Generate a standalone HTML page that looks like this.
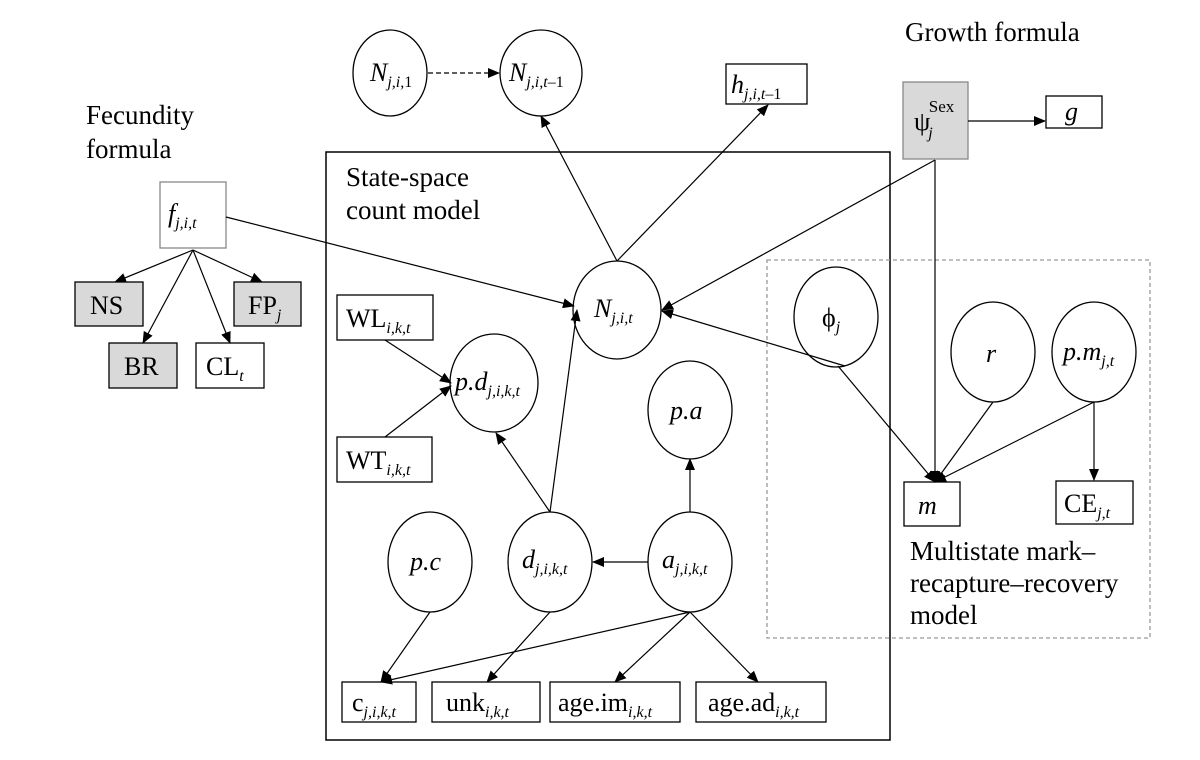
<!DOCTYPE html>
<html><head><meta charset="utf-8"><style>
body{margin:0;background:#fff}
svg{display:block;font-family:"Liberation Serif","Times New Roman",serif}
text{font-family:"Liberation Serif","Times New Roman",serif;font-size:26px;fill:#000}
.t{font-size:27px}
.i{font-style:italic}
.s{font-size:16px;font-style:italic}
</style></head><body>
<svg width="1200" height="760" viewBox="0 0 1200 760" xmlns="http://www.w3.org/2000/svg" font-family="Liberation Serif, serif">
<defs><marker id="a" markerWidth="12" markerHeight="10" refX="11" refY="5" orient="auto" markerUnits="userSpaceOnUse"><path d="M0,0 L12,5 L0,10 z" fill="#000"/></marker></defs>
<g fill="none" stroke="#000" stroke-width="1.3">
<rect x="326" y="152" width="564" height="588" stroke-width="1.5"/>
<rect x="767" y="260" width="383" height="378" stroke="#999" stroke-dasharray="4,3"/>
<ellipse cx="390" cy="73" rx="37" ry="43"/>
<ellipse cx="541" cy="73" rx="41" ry="43"/>
<ellipse cx="617" cy="310" rx="44" ry="49"/>
<ellipse cx="494" cy="383" rx="44" ry="49"/>
<ellipse cx="690" cy="410" rx="42" ry="49"/>
<ellipse cx="430" cy="562" rx="42" ry="50"/>
<ellipse cx="550" cy="562" rx="42" ry="50"/>
<ellipse cx="690" cy="562" rx="42" ry="50"/>
<ellipse cx="836" cy="317" rx="42" ry="50"/>
<ellipse cx="993" cy="352" rx="42" ry="50"/>
<ellipse cx="1094" cy="352" rx="42" ry="50"/>
<rect x="726" y="64" width="81" height="40"/>
<rect x="903" y="82" width="65" height="77" fill="#d9d9d9" stroke="#888"/>
<rect x="1046" y="96" width="56" height="32"/>
<rect x="160" y="182" width="66" height="66" stroke="#888"/>
<rect x="75" y="282" width="68" height="44" fill="#d9d9d9"/>
<rect x="234" y="282" width="67" height="44" fill="#d9d9d9"/>
<rect x="109" y="343" width="68" height="45" fill="#d9d9d9"/>
<rect x="196" y="343" width="68" height="45"/>
<rect x="337" y="295" width="96" height="45"/>
<rect x="337" y="437" width="95" height="45"/>
<rect x="342" y="682" width="74" height="40"/>
<rect x="432" y="682" width="108" height="40"/>
<rect x="550" y="682" width="130" height="40"/>
<rect x="696" y="682" width="130" height="40"/>
<rect x="904" y="482" width="56" height="44"/>
<rect x="1056" y="481" width="77" height="43"/>
</g>
<g stroke="#000" stroke-width="1.2" fill="none" marker-end="url(#a)">
<line x1="428" y1="73" x2="499" y2="73" stroke-dasharray="5,3"/>
<line x1="617" y1="261" x2="541" y2="116"/>
<line x1="617" y1="261" x2="768" y2="105"/>
<line x1="935" y1="160" x2="662" y2="310"/>
<line x1="935" y1="160" x2="935" y2="482"/>
<line x1="968" y1="121" x2="1045" y2="121"/>
<line x1="226" y1="217" x2="574" y2="306"/>
<line x1="193" y1="250" x2="115" y2="282"/>
<line x1="193" y1="250" x2="143" y2="343"/>
<line x1="193" y1="250" x2="230" y2="343"/>
<line x1="193" y1="250" x2="262" y2="282"/>
<line x1="385" y1="340" x2="451" y2="383"/>
<line x1="385" y1="437" x2="451" y2="386"/>
<line x1="550" y1="512" x2="496" y2="433"/>
<line x1="550" y1="512" x2="577" y2="310"/>
<line x1="648" y1="562" x2="593" y2="562"/>
<line x1="690" y1="512" x2="690" y2="459"/>
<line x1="430" y1="612" x2="381" y2="682"/>
<line x1="690" y1="612" x2="381" y2="682"/>
<line x1="550" y1="612" x2="487" y2="682"/>
<line x1="690" y1="612" x2="615" y2="682"/>
<line x1="690" y1="612" x2="758" y2="682"/>
<line x1="845" y1="366" x2="662" y2="311"/>
<line x1="838" y1="366" x2="935" y2="482"/>
<line x1="993" y1="402" x2="935" y2="482"/>
<line x1="1094" y1="402" x2="935" y2="482"/>
<line x1="1094" y1="402" x2="1094" y2="480"/>
</g>
<text x="905" y="41" class="t">Growth formula</text>
<text x="86" y="124" class="t">Fecundity</text>
<text x="86" y="158" class="t">formula</text>
<text x="346" y="186" class="t">State-space</text>
<text x="346" y="219" class="t">count model</text>
<text x="910" y="560" class="t">Multistate mark–</text>
<text x="910" y="592" class="t">recapture–recovery</text>
<text x="910" y="624" class="t">model</text>
<text x="370" y="81" class="i">N<tspan class="s" dy="6">j,i,</tspan><tspan font-style="normal" font-size="16">1</tspan></text>
<text x="509" y="81" class="i">N<tspan class="s" dy="6">j,i,t</tspan><tspan font-size="16" font-style="normal">–1</tspan></text>
<text x="731" y="93" class="i">h<tspan class="s" dy="6">j,i,t</tspan><tspan font-size="16" font-style="normal">–1</tspan></text>
<text x="914" y="130" font-size="30">ψ<tspan class="s" dy="8" dx="-2">j</tspan><tspan font-size="17" dy="-26" dx="-4">Sex</tspan></text>
<text x="1065" y="120" class="i">g</text>
<text x="168" y="222" class="i">f<tspan class="s" dy="6">j,i,t</tspan></text>
<text x="90" y="314">NS</text>
<text x="248" y="314">FP<tspan class="s" dy="6">j</tspan></text>
<text x="124" y="375">BR</text>
<text x="206" y="375">CL<tspan class="s" dy="6">t</tspan></text>
<text x="346" y="327">WL<tspan class="s" dy="6">i,k,t</tspan></text>
<text x="346" y="469">WT<tspan class="s" dy="6">i,k,t</tspan></text>
<text x="594" y="317" class="i">N<tspan class="s" dy="6">j,i,t</tspan></text>
<text x="455" y="390" class="i">p.d<tspan class="s" dy="6">j,i,k,t</tspan></text>
<text x="670" y="419" class="i">p.a</text>
<text x="410" y="570" class="i">p.c</text>
<text x="522" y="568" class="i">d<tspan class="s" dy="6">j,i,k,t</tspan></text>
<text x="662" y="568" class="i">a<tspan class="s" dy="6">j,i,k,t</tspan></text>
<text x="352" y="711">c<tspan class="s" dy="6">j,i,k,t</tspan></text>
<text x="446" y="711">unk<tspan class="s" dy="6">i,k,t</tspan></text>
<text x="558" y="711">age.im<tspan class="s" dy="6">i,k,t</tspan></text>
<text x="708" y="711">age.ad<tspan class="s" dy="6">i,k,t</tspan></text>
<text x="822" y="326">ϕ<tspan class="s" dy="6">j</tspan></text>
<text x="986" y="362" class="i">r</text>
<text x="1063" y="360" class="i">p.m<tspan class="s" dy="6">j,t</tspan></text>
<text x="918" y="514" class="i">m</text>
<text x="1064" y="512">CE<tspan class="s" dy="6">j,t</tspan></text>
</svg>
</body></html>
